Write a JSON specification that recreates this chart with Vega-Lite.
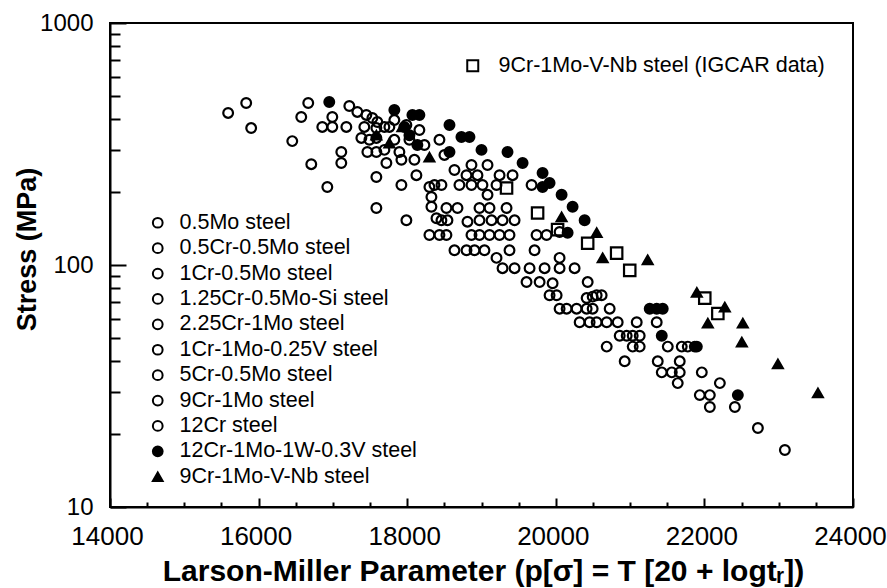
{
  "$schema": "https://vega.github.io/schema/vega-lite/v6.json",
  "width": 743,
  "height": 484,
  "autosize": "none",
  "padding": {"left": 110, "top": 23, "right": 34, "bottom": 81},
  "background": "white",
  "config": {
    "view": {"stroke": "black", "strokeWidth": 2},
    "font": "Liberation Sans"
  },
  "data": {
    "values": [
      {"p":15590,"s":425,"g":"0.5Mo steel"},{"p":15833,"s":467,"g":"0.5Mo steel"},{"p":15900,"s":368,"g":"0.5Mo steel"},{"p":16453,"s":325,"g":"0.5Mo steel"},{"p":16574,"s":409,"g":"0.5Mo steel"},{"p":16668,"s":467,"g":"0.5Mo steel"},{"p":16709,"s":261,"g":"0.5Mo steel"},{"p":16925,"s":210,"g":"0.5Mo steel"},{"p":16992,"s":409,"g":"0.5Mo steel"},{"p":16857,"s":372,"g":"0.5Mo steel"},{"p":16992,"s":372,"g":"0.5Mo steel"},{"p":17181,"s":372,"g":"0.5Mo steel"},{"p":17221,"s":454,"g":"0.5Mo steel"},{"p":17113,"s":293,"g":"0.5Mo steel"},{"p":17113,"s":264,"g":"0.5Mo steel"},{"p":17329,"s":429,"g":"0.5Mo steel"},{"p":17450,"s":417,"g":"0.5Mo steel"},
      {"p":17531,"s":405,"g":"0.5Cr-0.5Mo steel"},{"p":17598,"s":390,"g":"0.5Cr-0.5Mo steel"},{"p":17423,"s":372,"g":"0.5Cr-0.5Mo steel"},{"p":17585,"s":368,"g":"0.5Cr-0.5Mo steel"},{"p":17693,"s":372,"g":"0.5Cr-0.5Mo steel"},{"p":17760,"s":372,"g":"0.5Cr-0.5Mo steel"},{"p":17383,"s":335,"g":"0.5Cr-0.5Mo steel"},{"p":17491,"s":329,"g":"0.5Cr-0.5Mo steel"},{"p":17585,"s":335,"g":"0.5Cr-0.5Mo steel"},{"p":17464,"s":293,"g":"0.5Cr-0.5Mo steel"},{"p":17585,"s":293,"g":"0.5Cr-0.5Mo steel"},{"p":17693,"s":299,"g":"0.5Cr-0.5Mo steel"},{"p":17720,"s":264,"g":"0.5Cr-0.5Mo steel"},{"p":17585,"s":231,"g":"0.5Cr-0.5Mo steel"},{"p":17585,"s":172,"g":"0.5Cr-0.5Mo steel"},{"p":17922,"s":272,"g":"0.5Cr-0.5Mo steel"},{"p":17922,"s":214,"g":"0.5Cr-0.5Mo steel"},
      {"p":17989,"s":153,"g":"1Cr-0.5Mo steel"},{"p":18124,"s":235,"g":"1Cr-0.5Mo steel"},{"p":18299,"s":210,"g":"1Cr-0.5Mo steel"},{"p":18326,"s":191,"g":"1Cr-0.5Mo steel"},{"p":18326,"s":174,"g":"1Cr-0.5Mo steel"},{"p":18394,"s":156,"g":"1Cr-0.5Mo steel"},{"p":18299,"s":133,"g":"1Cr-0.5Mo steel"},{"p":18434,"s":133,"g":"1Cr-0.5Mo steel"},{"p":17989,"s":379,"g":"1Cr-0.5Mo steel"},{"p":18030,"s":329,"g":"1Cr-0.5Mo steel"},{"p":17895,"s":293,"g":"1Cr-0.5Mo steel"},{"p":18528,"s":133,"g":"1Cr-0.5Mo steel"},{"p":18367,"s":214,"g":"1Cr-0.5Mo steel"},{"p":18461,"s":214,"g":"1Cr-0.5Mo steel"},{"p":18528,"s":172,"g":"1Cr-0.5Mo steel"},{"p":18677,"s":172,"g":"1Cr-0.5Mo steel"},{"p":18461,"s":153,"g":"1Cr-0.5Mo steel"},
      {"p":18542,"s":153,"g":"1.25Cr-0.5Mo-Si steel"},{"p":18811,"s":151,"g":"1.25Cr-0.5Mo-Si steel"},{"p":18865,"s":133,"g":"1.25Cr-0.5Mo-Si steel"},{"p":18973,"s":133,"g":"1.25Cr-0.5Mo-Si steel"},{"p":19108,"s":133,"g":"1.25Cr-0.5Mo-Si steel"},{"p":19243,"s":133,"g":"1.25Cr-0.5Mo-Si steel"},{"p":19377,"s":133,"g":"1.25Cr-0.5Mo-Si steel"},{"p":18798,"s":115,"g":"1.25Cr-0.5Mo-Si steel"},{"p":18906,"s":115,"g":"1.25Cr-0.5Mo-Si steel"},{"p":19040,"s":115,"g":"1.25Cr-0.5Mo-Si steel"},{"p":19202,"s":107,"g":"1.25Cr-0.5Mo-Si steel"},{"p":19377,"s":115,"g":"1.25Cr-0.5Mo-Si steel"},{"p":18865,"s":259,"g":"1.25Cr-0.5Mo-Si steel"},{"p":19081,"s":259,"g":"1.25Cr-0.5Mo-Si steel"},{"p":18798,"s":235,"g":"1.25Cr-0.5Mo-Si steel"},{"p":18946,"s":235,"g":"1.25Cr-0.5Mo-Si steel"},{"p":18703,"s":214,"g":"1.25Cr-0.5Mo-Si steel"},
      {"p":18865,"s":214,"g":"2.25Cr-1Mo steel"},{"p":19013,"s":214,"g":"2.25Cr-1Mo steel"},{"p":19081,"s":195,"g":"2.25Cr-1Mo steel"},{"p":18973,"s":172,"g":"2.25Cr-1Mo steel"},{"p":19108,"s":172,"g":"2.25Cr-1Mo steel"},{"p":18973,"s":153,"g":"2.25Cr-1Mo steel"},{"p":19135,"s":153,"g":"2.25Cr-1Mo steel"},{"p":19283,"s":153,"g":"2.25Cr-1Mo steel"},{"p":19445,"s":153,"g":"2.25Cr-1Mo steel"},{"p":19243,"s":235,"g":"2.25Cr-1Mo steel"},{"p":19418,"s":235,"g":"2.25Cr-1Mo steel"},{"p":19202,"s":214,"g":"2.25Cr-1Mo steel"},{"p":19674,"s":214,"g":"2.25Cr-1Mo steel"},{"p":19337,"s":172,"g":"2.25Cr-1Mo steel"},{"p":19741,"s":133,"g":"2.25Cr-1Mo steel"},{"p":19876,"s":133,"g":"2.25Cr-1Mo steel"},{"p":20051,"s":137,"g":"2.25Cr-1Mo steel"},
      {"p":19714,"s":115,"g":"1Cr-1Mo-0.25V steel"},{"p":20051,"s":107,"g":"1Cr-1Mo-0.25V steel"},{"p":19283,"s":97,"g":"1Cr-1Mo-0.25V steel"},{"p":19445,"s":97,"g":"1Cr-1Mo-0.25V steel"},{"p":19647,"s":97,"g":"1Cr-1Mo-0.25V steel"},{"p":19849,"s":97,"g":"1Cr-1Mo-0.25V steel"},{"p":20051,"s":97,"g":"1Cr-1Mo-0.25V steel"},{"p":20253,"s":97,"g":"1Cr-1Mo-0.25V steel"},{"p":19606,"s":85,"g":"1Cr-1Mo-0.25V steel"},{"p":19782,"s":85,"g":"1Cr-1Mo-0.25V steel"},{"p":19957,"s":84,"g":"1Cr-1Mo-0.25V steel"},{"p":20429,"s":85,"g":"1Cr-1Mo-0.25V steel"},{"p":19916,"s":75,"g":"1Cr-1Mo-0.25V steel"},{"p":20011,"s":75,"g":"1Cr-1Mo-0.25V steel"},{"p":20415,"s":73,"g":"1Cr-1Mo-0.25V steel"},{"p":20496,"s":74,"g":"1Cr-1Mo-0.25V steel"},{"p":20051,"s":66,"g":"1Cr-1Mo-0.25V steel"},
      {"p":20146,"s":66,"g":"5Cr-0.5Mo steel"},{"p":20280,"s":66,"g":"5Cr-0.5Mo steel"},{"p":20415,"s":66,"g":"5Cr-0.5Mo steel"},{"p":20496,"s":66,"g":"5Cr-0.5Mo steel"},{"p":20321,"s":58,"g":"5Cr-0.5Mo steel"},{"p":20455,"s":58,"g":"5Cr-0.5Mo steel"},{"p":20550,"s":58,"g":"5Cr-0.5Mo steel"},{"p":20550,"s":75,"g":"5Cr-0.5Mo steel"},{"p":20617,"s":75,"g":"5Cr-0.5Mo steel"},{"p":20725,"s":66,"g":"5Cr-0.5Mo steel"},{"p":20685,"s":58,"g":"5Cr-0.5Mo steel"},{"p":20833,"s":58,"g":"5Cr-0.5Mo steel"},{"p":21089,"s":58,"g":"5Cr-0.5Mo steel"},{"p":21358,"s":58,"g":"5Cr-0.5Mo steel"},{"p":20860,"s":51,"g":"5Cr-0.5Mo steel"},{"p":20954,"s":51,"g":"5Cr-0.5Mo steel"},{"p":21035,"s":51,"g":"5Cr-0.5Mo steel"},
      {"p":21129,"s":51,"g":"9Cr-1Mo steel"},{"p":20685,"s":46,"g":"9Cr-1Mo steel"},{"p":21035,"s":46,"g":"9Cr-1Mo steel"},{"p":21129,"s":46,"g":"9Cr-1Mo steel"},{"p":20927,"s":40,"g":"9Cr-1Mo steel"},{"p":21507,"s":46,"g":"9Cr-1Mo steel"},{"p":21695,"s":46,"g":"9Cr-1Mo steel"},{"p":21776,"s":46,"g":"9Cr-1Mo steel"},{"p":21871,"s":46,"g":"9Cr-1Mo steel"},{"p":21372,"s":40,"g":"9Cr-1Mo steel"},{"p":21668,"s":40,"g":"9Cr-1Mo steel"},{"p":21426,"s":36,"g":"9Cr-1Mo steel"},{"p":21561,"s":36,"g":"9Cr-1Mo steel"},{"p":21668,"s":36,"g":"9Cr-1Mo steel"},{"p":21641,"s":32.5,"g":"9Cr-1Mo steel"},{"p":21965,"s":36,"g":"9Cr-1Mo steel"},{"p":22208,"s":32.5,"g":"9Cr-1Mo steel"},
      {"p":21938,"s":29,"g":"12Cr steel"},{"p":22073,"s":29,"g":"12Cr steel"},{"p":22073,"s":25.9,"g":"12Cr steel"},{"p":22410,"s":25.9,"g":"12Cr steel"},{"p":22720,"s":21.2,"g":"12Cr steel"},{"p":23083,"s":17.2,"g":"12Cr steel"},{"p":17827,"s":329,"g":"12Cr steel"},{"p":17827,"s":397,"g":"12Cr steel"},{"p":18164,"s":361,"g":"12Cr steel"},{"p":18232,"s":313,"g":"12Cr steel"},{"p":18434,"s":329,"g":"12Cr steel"},{"p":18501,"s":285,"g":"12Cr steel"},{"p":18636,"s":247,"g":"12Cr steel"},{"p":18097,"s":272,"g":"12Cr steel"},{"p":18636,"s":115,"g":"12Cr steel"},
      {"p":16951,"s":472,"g":"12Cr-1Mo-1W-0.3V steel"},{"p":17827,"s":437,"g":"12Cr-1Mo-1W-0.3V steel"},{"p":18070,"s":417,"g":"12Cr-1Mo-1W-0.3V steel"},{"p":18164,"s":417,"g":"12Cr-1Mo-1W-0.3V steel"},{"p":17962,"s":372,"g":"12Cr-1Mo-1W-0.3V steel"},{"p":18569,"s":379,"g":"12Cr-1Mo-1W-0.3V steel"},{"p":18730,"s":338,"g":"12Cr-1Mo-1W-0.3V steel"},{"p":18838,"s":338,"g":"12Cr-1Mo-1W-0.3V steel"},{"p":19000,"s":299,"g":"12Cr-1Mo-1W-0.3V steel"},{"p":19350,"s":293,"g":"12Cr-1Mo-1W-0.3V steel"},{"p":19553,"s":264,"g":"12Cr-1Mo-1W-0.3V steel"},{"p":19822,"s":240,"g":"12Cr-1Mo-1W-0.3V steel"},{"p":19916,"s":218,"g":"12Cr-1Mo-1W-0.3V steel"},{"p":20078,"s":195,"g":"12Cr-1Mo-1W-0.3V steel"},{"p":20226,"s":174,"g":"12Cr-1Mo-1W-0.3V steel"},{"p":20388,"s":153,"g":"12Cr-1Mo-1W-0.3V steel"},{"p":20159,"s":136,"g":"12Cr-1Mo-1W-0.3V steel"},{"p":18569,"s":293,"g":"12Cr-1Mo-1W-0.3V steel"},{"p":21264,"s":66,"g":"12Cr-1Mo-1W-0.3V steel"},{"p":21358,"s":66,"g":"12Cr-1Mo-1W-0.3V steel"},{"p":21439,"s":66,"g":"12Cr-1Mo-1W-0.3V steel"},{"p":21426,"s":51,"g":"12Cr-1Mo-1W-0.3V steel"},{"p":21898,"s":46,"g":"12Cr-1Mo-1W-0.3V steel"},{"p":22450,"s":29,"g":"12Cr-1Mo-1W-0.3V steel"},{"p":19822,"s":210,"g":"12Cr-1Mo-1W-0.3V steel"},{"p":18030,"s":344,"g":"12Cr-1Mo-1W-0.3V steel"},{"p":18137,"s":313,"g":"12Cr-1Mo-1W-0.3V steel"},
      {"p":17585,"s":344,"g":"9Cr-1Mo-V-Nb steel"},{"p":17935,"s":372,"g":"9Cr-1Mo-V-Nb steel"},{"p":17760,"s":319,"g":"9Cr-1Mo-V-Nb steel"},{"p":18299,"s":279,"g":"9Cr-1Mo-V-Nb steel"},{"p":20078,"s":158,"g":"9Cr-1Mo-V-Nb steel"},{"p":20550,"s":136,"g":"9Cr-1Mo-V-Nb steel"},{"p":20631,"s":107,"g":"9Cr-1Mo-V-Nb steel"},{"p":21237,"s":105,"g":"9Cr-1Mo-V-Nb steel"},{"p":21898,"s":77,"g":"9Cr-1Mo-V-Nb steel"},{"p":22275,"s":67,"g":"9Cr-1Mo-V-Nb steel"},{"p":22046,"s":57.5,"g":"9Cr-1Mo-V-Nb steel"},{"p":22517,"s":57.5,"g":"9Cr-1Mo-V-Nb steel"},{"p":22504,"s":48,"g":"9Cr-1Mo-V-Nb steel"},{"p":22989,"s":39,"g":"9Cr-1Mo-V-Nb steel"},{"p":23528,"s":29.6,"g":"9Cr-1Mo-V-Nb steel"},
      {"p":19337,"s":208,"g":"9Cr-1Mo-V-Nb steel (IGCAR data)"},{"p":19755,"s":164,"g":"9Cr-1Mo-V-Nb steel (IGCAR data)"},{"p":20024,"s":140,"g":"9Cr-1Mo-V-Nb steel (IGCAR data)"},{"p":20429,"s":123,"g":"9Cr-1Mo-V-Nb steel (IGCAR data)"},{"p":20819,"s":112,"g":"9Cr-1Mo-V-Nb steel (IGCAR data)"},{"p":20995,"s":95,"g":"9Cr-1Mo-V-Nb steel (IGCAR data)"},{"p":22005,"s":73,"g":"9Cr-1Mo-V-Nb steel (IGCAR data)"},{"p":22181,"s":63,"g":"9Cr-1Mo-V-Nb steel (IGCAR data)"}
    ]
  },
  "encoding": {
    "x": {
      "field": "p", "type": "quantitative",
      "scale": {"domain": [14000, 24000], "nice": false, "zero": false},
      "axis": {
        "values": [14000,14500,15000,15500,16000,16500,17000,17500,18000,18500,19000,19500,20000,20500,21000,21500,22000,22500,23000,23500,24000],
        "labelExpr": "datum.value % 2000 === 0 ? format(datum.value, 'd') : ''",
        "ticks": true,
        "tickSize": {"condition": {"test": "datum.value % 2000 === 0", "value": -9}, "value": -5},
        "labelPadding": 25,
        "labelOffset": -3,
        "labelFont": "Liberation Sans", "labelFontSize": 26, "labelColor": "black",
        "labelFlush": false, "labelOverlap": false,
        "tickColor": "black", "tickWidth": 2, "tickOpacity": 1,
        "domainColor": "black", "domainWidth": 2, "grid": false,
        "zindex": 1,
        "title": "Larson-Miller Parameter (p[σ] = T [20 + logtᵣ])",
        "titleFont": "Liberation Sans", "titleFontSize": 30, "titleFontWeight": "bold", "titleColor": "black",
        "titleX": 373, "titleY": 64, "titleAlign": "center", "titleBaseline": "middle"
      }
    },
    "y": {
      "field": "s", "type": "quantitative",
      "scale": {"type": "log", "domain": [10, 1000], "nice": false},
      "axis": {
        "values": [10,20,30,40,50,60,70,80,90,100,200,300,400,500,600,700,800,900,1000],
        "labelExpr": "datum.value == 10 || datum.value == 100 || datum.value == 1000 ? format(datum.value, 'd') : ''",
        "ticks": true,
        "tickSize": {"condition": {"test": "datum.value == 10 || datum.value == 100 || datum.value == 1000", "value": -16}, "value": -10},
        "labelPadding": 33,
        "labelFont": "Liberation Sans", "labelFontSize": 24, "labelColor": "black",
        "labelFlush": false, "labelOverlap": false,
        "tickColor": "black", "tickWidth": 2, "tickOpacity": 1,
        "domainColor": "black", "domainWidth": 2, "grid": false,
        "zindex": 1,
        "title": "Stress (MPa)",
        "titleFont": "Liberation Sans", "titleFontSize": 27, "titleFontWeight": "bold", "titleColor": "black",
        "titleX": -83, "titleY": 226, "titleAngle": -90, "titleAlign": "center", "titleBaseline": "middle"
      }
    }
  },
  "layer": [
    {
      "transform": [{"filter": "datum.g != '9Cr-1Mo-V-Nb steel (IGCAR data)'"}],
      "mark": {"type": "point", "strokeWidth": 2.2, "opacity": 1},
      "encoding": {
        "shape": {
          "field": "g", "type": "nominal",
          "scale": {
            "domain": ["0.5Mo steel","0.5Cr-0.5Mo steel","1Cr-0.5Mo steel","1.25Cr-0.5Mo-Si steel","2.25Cr-1Mo steel","1Cr-1Mo-0.25V steel","5Cr-0.5Mo steel","9Cr-1Mo steel","12Cr steel","12Cr-1Mo-1W-0.3V steel","9Cr-1Mo-V-Nb steel"],
            "range": ["circle","circle","circle","circle","circle","circle","circle","circle","circle","circle","triangle-up"]
          },
          "legend": {"title": null, "orient": "none", "legendX": 37, "legendY": 189, "direction": "vertical", "padding": 0, "labelFont": "Liberation Sans", "labelFontSize": 21.5, "labelColor": "black", "labelOffset": 11, "labelLimit": 0, "rowPadding": 2.4, "symbolStrokeWidth": 2}
        },
        "fill": {
          "field": "g", "type": "nominal",
          "scale": {
            "domain": ["0.5Mo steel","0.5Cr-0.5Mo steel","1Cr-0.5Mo steel","1.25Cr-0.5Mo-Si steel","2.25Cr-1Mo steel","1Cr-1Mo-0.25V steel","5Cr-0.5Mo steel","9Cr-1Mo steel","12Cr steel","12Cr-1Mo-1W-0.3V steel","9Cr-1Mo-V-Nb steel"],
            "range": ["transparent","transparent","transparent","transparent","transparent","transparent","transparent","transparent","transparent","black","black"]
          },
          "legend": {"title": null, "orient": "none", "legendX": 37, "legendY": 189, "direction": "vertical", "padding": 0, "labelFont": "Liberation Sans", "labelFontSize": 21.5, "labelColor": "black", "labelOffset": 11, "labelLimit": 0, "rowPadding": 2.4, "symbolStrokeWidth": 2}
        },
        "stroke": {
          "field": "g", "type": "nominal",
          "scale": {
            "domain": ["0.5Mo steel","0.5Cr-0.5Mo steel","1Cr-0.5Mo steel","1.25Cr-0.5Mo-Si steel","2.25Cr-1Mo steel","1Cr-1Mo-0.25V steel","5Cr-0.5Mo steel","9Cr-1Mo steel","12Cr steel","12Cr-1Mo-1W-0.3V steel","9Cr-1Mo-V-Nb steel"],
            "range": ["black","black","black","black","black","black","black","black","black","black","black"]
          },
          "legend": {"title": null, "orient": "none", "legendX": 37, "legendY": 189, "direction": "vertical", "padding": 0, "labelFont": "Liberation Sans", "labelFontSize": 21.5, "labelColor": "black", "labelOffset": 11, "labelLimit": 0, "rowPadding": 2.4, "symbolStrokeWidth": 2}
        },
        "size": {
          "field": "g", "type": "nominal",
          "scale": {
            "domain": ["0.5Mo steel","0.5Cr-0.5Mo steel","1Cr-0.5Mo steel","1.25Cr-0.5Mo-Si steel","2.25Cr-1Mo steel","1Cr-1Mo-0.25V steel","5Cr-0.5Mo steel","9Cr-1Mo steel","12Cr steel","12Cr-1Mo-1W-0.3V steel","9Cr-1Mo-V-Nb steel"],
            "range": [95,95,95,95,95,95,95,95,95,95,110]
          },
          "legend": {"title": null, "orient": "none", "legendX": 37, "legendY": 189, "direction": "vertical", "padding": 0, "labelFont": "Liberation Sans", "labelFontSize": 21.5, "labelColor": "black", "labelOffset": 11, "labelLimit": 0, "rowPadding": 2.4, "symbolStrokeWidth": 2}
        }
      }
    },
    {
      "transform": [{"filter": "datum.g == '9Cr-1Mo-V-Nb steel (IGCAR data)'"}],
      "mark": {"type": "point", "strokeWidth": 2.2, "fill": "transparent", "size": 130, "opacity": 1},
      "encoding": {
        "shape": {
          "field": "g", "type": "nominal",
          "scale": {"domain": ["9Cr-1Mo-V-Nb steel (IGCAR data)"], "range": ["square"]},
          "legend": {"title": null, "orient": "none", "legendX": 352, "legendY": 32, "direction": "vertical", "padding": 0, "labelFont": "Liberation Sans", "labelFontSize": 21.5, "labelColor": "black", "labelOffset": 15, "labelLimit": 0, "symbolSize": 121, "symbolStrokeWidth": 2}
        },
        "stroke": {
          "field": "g", "type": "nominal",
          "scale": {"domain": ["9Cr-1Mo-V-Nb steel (IGCAR data)"], "range": ["black"]},
          "legend": {"title": null, "orient": "none", "legendX": 352, "legendY": 32, "direction": "vertical", "padding": 0, "labelFont": "Liberation Sans", "labelFontSize": 21.5, "labelColor": "black", "labelOffset": 15, "labelLimit": 0, "symbolSize": 121, "symbolStrokeWidth": 2}
        }
      }
    }
  ],
  "resolve": {"scale": {"shape": "independent", "fill": "independent", "size": "independent", "stroke": "independent"}}
}
